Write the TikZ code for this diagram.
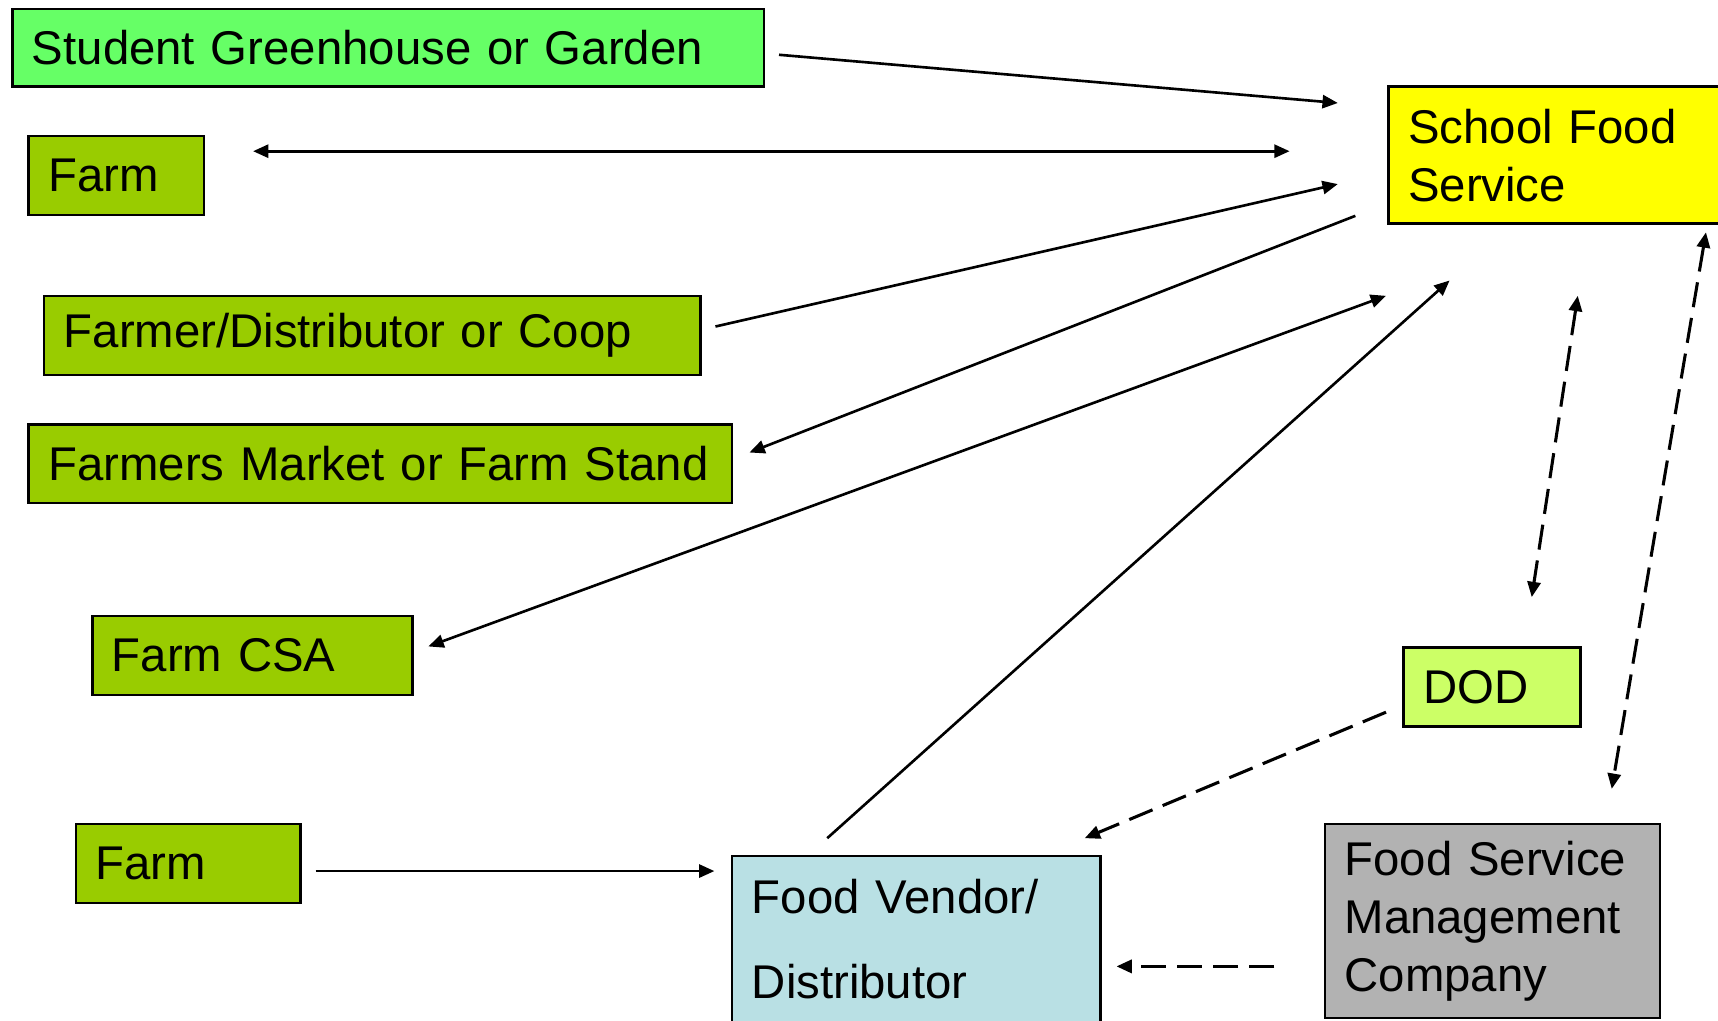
\documentclass[tikz,border=0pt]{standalone}
\usepackage{fontspec}
\setmainfont{Liberation Sans}
\usetikzlibrary{arrows.meta}
\definecolor{sgreen}{HTML}{66FF66}
\definecolor{fgreen}{HTML}{99CC00}
\definecolor{dgreen}{HTML}{CCFF66}
\definecolor{vblue}{HTML}{B9E0E4}
\definecolor{sgray}{HTML}{B2B2B2}
\definecolor{syellow}{HTML}{FFFF00}
\begin{document}
\begin{tikzpicture}[x=0.5pt,y=-0.5pt,
  box/.style={draw=black,line width=1.2pt,rectangle,anchor=north west,inner xsep=9pt,inner ysep=0pt,
    align=left,font=\fontsize{21.6}{26.5}\selectfont},
  tip/.tip={Triangle[length=7pt,width=6pt]},
  conn/.style={line width=1.2pt,-tip},
  bconn/.style={line width=1.2pt,tip-tip},
  dconn/.style={conn,line width=1.4pt,dash pattern=on 11.5pt off 5pt},
  dbconn/.style={bconn,line width=1.4pt,dash pattern=on 11.5pt off 5pt}]
\useasboundingbox (0,0) rectangle (1568,931);
% boxes
\node[box,fill=sgreen,text width=325pt,minimum height=35.5pt] (sg) at (10,7) {Student Greenhouse or Garden};
\node[box,fill=fgreen,text width=62pt,minimum height=36pt] (farma) at (25,123) {Farm};
\node[box,fill=fgreen,text width=281.5pt,minimum height=36pt] (fdc) at (39,269) {Farmer/Distributor or Coop};
\node[box,fill=fgreen,text width=303pt,minimum height=36pt] (fm) at (25,386) {\mbox{Farmers Market or Farm Stand}};
\node[box,fill=fgreen,text width=128pt,minimum height=36pt] (csa) at (83,561) {Farm CSA};
\node[box,fill=fgreen,text width=84.5pt,minimum height=36pt] (farmb) at (68,751) {Farm};
\node[box,fill=vblue,text width=150pt,minimum height=76pt,font=\fontsize{21.6}{39}\selectfont] (fv) at (667,780) {Food Vendor/\\Distributor};
\node[box,fill=syellow,text width=137pt,minimum height=62.5pt] (sfs) at (1266,78) {School Food\\Service};
\node[box,fill=dgreen,text width=62.5pt,minimum height=36pt] (dod) at (1280,590) {DOD};
\node[box,fill=sgray,text width=135pt,minimum height=88.5pt] (fsmc) at (1208,751) {Food Service\\Management\\Company};
% connector end points
\coordinate (a1s) at (711,50);   \coordinate (a1e) at (1221,94);
\coordinate (a2s) at (231,138);  \coordinate (a2e) at (1177,138);
\coordinate (a3s) at (653,298);  \coordinate (a3e) at (1221,168);
\coordinate (a4s) at (1237,197); \coordinate (a4e) at (684,413);
\coordinate (a5s) at (1265,270); \coordinate (a5e) at (391,590);
\coordinate (a6s) at (755,765);  \coordinate (a6e) at (1323,256);
\coordinate (a7s) at (1440,270); \coordinate (a7e) at (1398,545);
\coordinate (a8s) at (1557,212); \coordinate (a8e) at (1471,720);
\coordinate (a9s) at (1265,650); \coordinate (a9e) at (990,765);
\coordinate (a10s) at (1163,882); \coordinate (a10e) at (1019,882);
\coordinate (a11s) at (288,795); \coordinate (a11e) at (652,795);
% connectors
\draw[conn] (a1s) -- (a1e);
\draw[bconn] (a2s) -- (a2e);
\draw[conn] (a3s) -- (a3e);
\draw[conn] (a4s) -- (a4e);
\draw[bconn] (a5s) -- (a5e);
\draw[conn] (a6s) -- (a6e);
\draw[dbconn] (a7s) -- (a7e);
\draw[dbconn] (a8s) -- (a8e);
\draw[dconn] (a9s) -- (a9e);
\draw[dconn] (a10s) -- (a10e);
\draw[conn] (a11s) -- (a11e);
\end{tikzpicture}
\end{document}
